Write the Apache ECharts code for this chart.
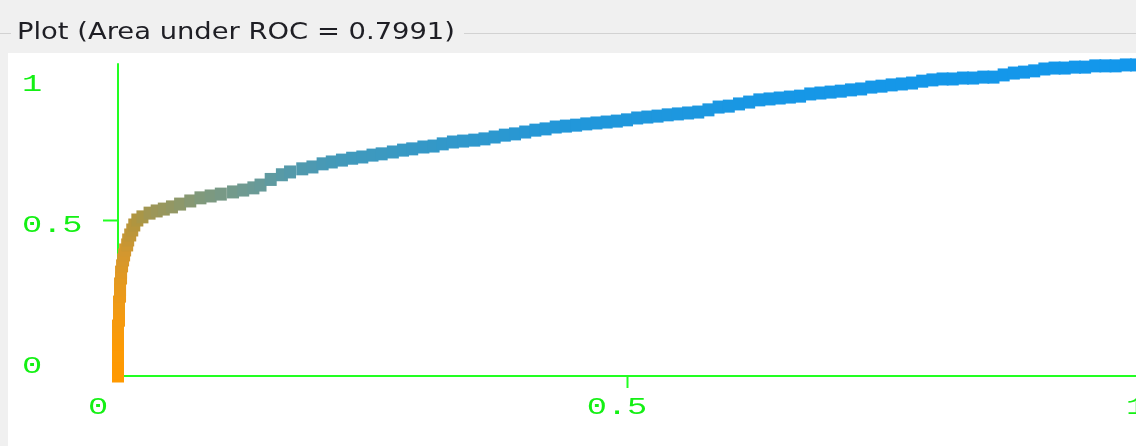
<!DOCTYPE html>
<html>
<head>
<meta charset="utf-8">
<script src="https://cdn.jsdelivr.net/npm/echarts@6/dist/echarts.min.js"></script>
<style>
  html, body { margin: 0; padding: 0; background: #f0f0f0; }
  #chart { width: 1136px; height: 446px; }
</style>
</head>
<body>
<div id="chart"></div>
<script>
// ROC curve: false positive rate vs. true positive rate, one point per threshold
const fpr = [
  0.000, 0.000, 0.000, 0.000, 0.000, 0.000, 0.000, 0.000, 0.000, 0.000,
  0.001, 0.001, 0.001, 0.001, 0.002, 0.002, 0.002, 0.003, 0.003, 0.004,
  0.005, 0.006, 0.007, 0.009, 0.010, 0.012, 0.014, 0.016, 0.019, 0.024,
  0.031, 0.038, 0.045, 0.053, 0.061, 0.071, 0.081, 0.091, 0.101, 0.113,
  0.123, 0.133, 0.140, 0.150, 0.161, 0.169, 0.181, 0.191, 0.201, 0.210,
  0.220, 0.230, 0.240, 0.250, 0.259, 0.270, 0.280, 0.289, 0.300, 0.310,
  0.319, 0.329, 0.339, 0.350, 0.360, 0.370, 0.380, 0.390, 0.400, 0.410,
  0.420, 0.430, 0.440, 0.450, 0.460, 0.470, 0.480, 0.490, 0.500, 0.510,
  0.520, 0.530, 0.540, 0.550, 0.560, 0.570, 0.580, 0.590, 0.600, 0.610,
  0.620, 0.630, 0.640, 0.650, 0.660, 0.670, 0.680, 0.690, 0.700, 0.710,
  0.720, 0.730, 0.740, 0.750, 0.760, 0.770, 0.780, 0.790, 0.800, 0.810,
  0.820, 0.830, 0.840, 0.850, 0.860, 0.870, 0.880, 0.890, 0.900, 0.910,
  0.920, 0.930, 0.940, 0.950, 0.960, 0.970, 0.980, 0.990, 1.000
];
const tpr = [
  0.000, 0.010, 0.026, 0.045, 0.064, 0.083, 0.103, 0.122, 0.141, 0.160,
  0.179, 0.199, 0.218, 0.237, 0.256, 0.276, 0.295, 0.314, 0.333, 0.353,
  0.372, 0.388, 0.404, 0.420, 0.436, 0.452, 0.468, 0.484, 0.500, 0.510,
  0.522, 0.529, 0.535, 0.542, 0.551, 0.561, 0.571, 0.577, 0.583, 0.590,
  0.596, 0.603, 0.612, 0.630, 0.645, 0.654, 0.664, 0.670, 0.680, 0.686,
  0.692, 0.698, 0.702, 0.708, 0.712, 0.718, 0.724, 0.728, 0.734, 0.737,
  0.744, 0.750, 0.753, 0.756, 0.760, 0.766, 0.772, 0.776, 0.782, 0.788,
  0.792, 0.798, 0.801, 0.804, 0.808, 0.811, 0.814, 0.817, 0.821, 0.827,
  0.830, 0.833, 0.837, 0.840, 0.843, 0.846, 0.853, 0.862, 0.865, 0.872,
  0.878, 0.885, 0.888, 0.891, 0.894, 0.897, 0.904, 0.907, 0.910, 0.913,
  0.917, 0.920, 0.926, 0.929, 0.933, 0.936, 0.939, 0.945, 0.949, 0.952,
  0.952, 0.955, 0.955, 0.958, 0.958, 0.965, 0.971, 0.974, 0.978, 0.984,
  0.987, 0.987, 0.990, 0.990, 0.994, 0.994, 0.994, 0.997, 0.997
];
const xTicks = [0, 0.5, 1];
const yTicks = [0, 0.5, 1];
const titleText = 'Plot (Area under ROC = 0.7991)';

const AXIS_GREEN = '#22ff22';
const LABEL_GREEN = '#14f014';
const GRID = { left: 118, right: 0, top: 64, bottom: 70 };

const points = fpr.map((x, i) => [x, tpr[i]]);

const chart = echarts.init(document.getElementById('chart'), null, { renderer: 'canvas' });

chart.setOption({
  backgroundColor: 'transparent',
  animation: false,
  grid: GRID,
  xAxis: {
    type: 'value', min: 0, max: 1, interval: 0.5,
    axisLine: { show: true, onZero: false, lineStyle: { color: AXIS_GREEN, width: 2 } },
    axisTick: { show: false },
    axisLabel: { show: false },
    splitLine: { show: false }
  },
  yAxis: {
    type: 'value', min: 0, max: 1, interval: 0.5,
    axisLine: { show: true, onZero: false, lineStyle: { color: AXIS_GREEN, width: 2 } },
    axisTick: { show: false },
    axisLabel: { show: false },
    splitLine: { show: false }
  },
  visualMap: {
    show: false,
    type: 'continuous',
    dimension: 1,
    seriesIndex: 0,
    min: 0, max: 1,
    inRange: {
      color: ['#ff9900', '#fc9a05', '#f49a10', '#e6991e', '#d4972e',
              '#b0953f', '#6c9a94', '#3f99bd', '#2297d9', '#1697e7', '#1397eb']
    }
  },
  series: [{
    type: 'scatter',
    data: points,
    symbol: 'rect',
    symbolSize: [12, 13],
    clip: false,
    itemStyle: { opacity: 1, borderWidth: 0 }
  }]
});

// Frame, title, ticks and tick labels, placed from the axis scales
const p0 = chart.convertToPixel({ xAxisIndex: 0 }, 0);
const p1 = chart.convertToPixel({ xAxisIndex: 0 }, 1);
const q1 = chart.convertToPixel({ yAxisIndex: 0 }, 1);
const q0 = chart.convertToPixel({ yAxisIndex: 0 }, 0);

const labelFont = '24px "Liberation Mono"';
const graphics = [
  { id: 'panel', type: 'rect', z: -10, silent: true,
    shape: { x: 8, y: 53, width: 1128, height: 393 },
    style: { fill: '#ffffff' } },
  { id: 'boxL', type: 'line', z: -9, silent: true,
    shape: { x1: 0, y1: 33.5, x2: 11, y2: 33.5 },
    style: { stroke: '#d2d2d2', lineWidth: 1 } },
  { id: 'boxR', type: 'line', z: -9, silent: true,
    shape: { x1: 464, y1: 33.5, x2: 1136, y2: 33.5 },
    style: { stroke: '#d2d2d2', lineWidth: 1 } },
  { id: 'title', type: 'text', x: 17, y: 33, scaleX: 1.19, silent: true,
    style: { text: titleText, fill: '#1e1e24', font: '23px "DejaVu Sans"',
             align: 'left', verticalAlign: 'middle' } }
];

xTicks.forEach((v, i) => {
  const p = chart.convertToPixel({ xAxisIndex: 0 }, v);
  if (v > 0 && v < 1) {
    graphics.push({ id: 'xt' + i, type: 'line', silent: true,
      shape: { x1: Math.round(p) + 0.5, y1: q0, x2: Math.round(p) + 0.5, y2: q0 + 12 },
      style: { stroke: AXIS_GREEN, lineWidth: 2 } });
  }
  const x = (p0 - 20) + (p - p0) * ((p1 - p0 + 20) / (p1 - p0));
  graphics.push({ id: 'xl' + i, type: 'text', x: x, y: q0 + 32, scaleX: 1.4, silent: true,
    style: { text: String(v), fill: LABEL_GREEN, font: labelFont, align: 'center', verticalAlign: 'middle' } });
});
yTicks.forEach((v, i) => {
  const q = chart.convertToPixel({ yAxisIndex: 0 }, v);
  if (v > 0 && v < 1) {
    graphics.push({ id: 'yt' + i, type: 'line', silent: true,
      shape: { x1: p0 - 15, y1: Math.round(q) + 0.5, x2: p0, y2: Math.round(q) + 0.5 },
      style: { stroke: AXIS_GREEN, lineWidth: 2 } });
  }
  const y = (q1 + 21) + (q - q1) * ((q0 - q1 - 30) / (q0 - q1));
  graphics.push({ id: 'yl' + i, type: 'text', x: 22, y: y, scaleX: 1.4, silent: true,
    style: { text: String(v), fill: LABEL_GREEN, font: labelFont, align: 'left', verticalAlign: 'middle' } });
});
chart.setOption({ graphic: graphics });
</script>
</body>
</html>
